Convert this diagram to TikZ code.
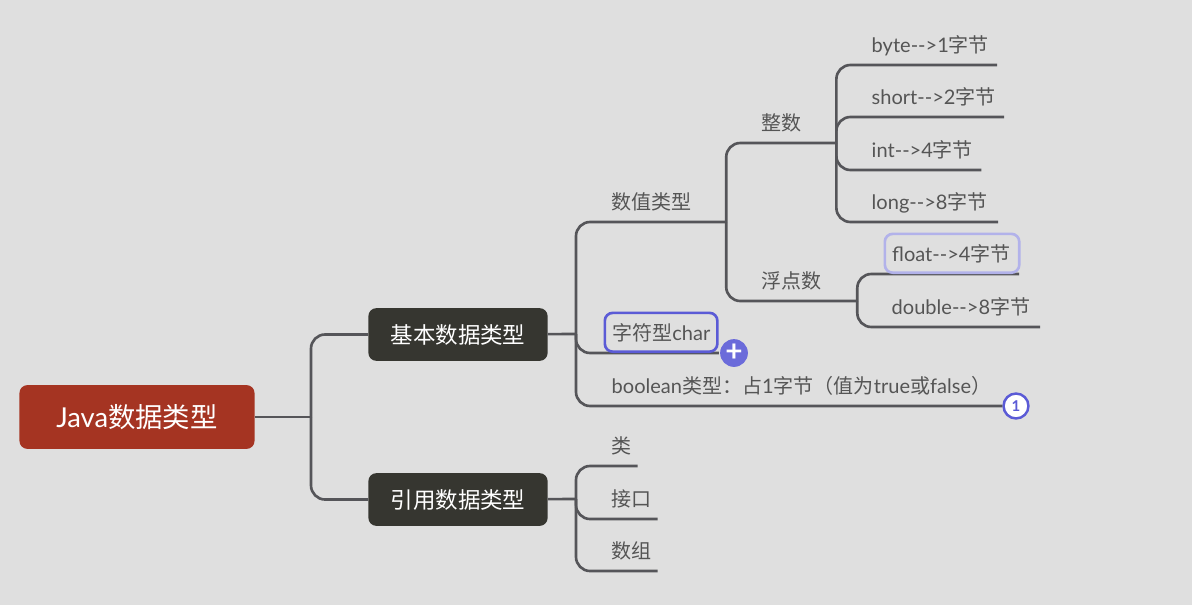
\documentclass[tikz,border=0pt]{standalone}
\usepackage{fontspec}
\setmainfont{Lato}
\newfontfamily\cjk{Noto Sans CJK SC}
\newcommand{\cn}[1]{{\cjk #1}}
\definecolor{bgGray}{HTML}{DFDFDF}
\definecolor{rootRed}{HTML}{A53422}
\definecolor{mainDark}{HTML}{363630}
\definecolor{linkGray}{HTML}{555559}
\definecolor{textGray}{HTML}{555555}
\definecolor{selBlue}{HTML}{5B5BD6}
\definecolor{selLight}{HTML}{B2B2EA}
\tikzset{
    link/.style={draw=linkGray, line width=1.5pt},
    elbow/.style={link, rounded corners=8pt},
    leaf/.style={anchor=south west, text=textGray, font=\fontsize{11.4}{13}\selectfont,
        inner xsep=4.2pt, inner ysep=0pt, text height=10.7pt, text depth=1.4pt,
        minimum height=23.4pt, align=left, text width=#1*0.5669pt-8.4pt},
    selbox/.style={leaf=#1, rounded corners=4.5pt, minimum height=22.1pt, line width=1.5pt},
    mainbox/.style={fill=mainDark, text=white, rounded corners=4.5pt, minimum width=102pt,
        minimum height=30pt, inner sep=0pt, font=\fontsize{12.8}{15}\selectfont},
    badge/.style={circle, inner sep=0pt, minimum size=14.2pt, line width=1.4pt}
}

\begin{document}
\begin{tikzpicture}[x=0.02cm, y=-0.02cm]
    \useasboundingbox (0,0) rectangle (1192,605);
    \fill[bgGray] (0,0) rectangle (1192,605);

    % root and main branches
    \node[fill=rootRed, text=white, rounded corners=4.5pt, minimum width=133.8pt, minimum height=36.3pt,
        inner sep=0pt, font=\fontsize{15.6}{18}\selectfont] (root) at (137,417) {Java\cn{数据类型}};
    \node[mainbox] (jiben) at (458,334.5) {\cn{基本数据类型}};
    \node[mainbox] (yinyong) at (458,499.5) {\cn{引用数据类型}};
    \coordinate (busRoot) at (311,417);
    \draw[link] (root) -- (busRoot);
    \draw[elbow] (busRoot) |- (jiben.west);
    \draw[elbow] (busRoot) |- (yinyong.west);

    % basic types
    \node[leaf=122] (shuzhi) at (604,222) {\cn{数值类型}};
    \node[leaf=400] (boolean) at (604,406) {boolean\cn{类型：占}1\cn{字节（值为}true\cn{或}false\cn{）}};
    \node[badge, draw=selBlue, fill=white, text=selBlue, font=\fontsize{8.5}{8.5}\selectfont\bfseries] (count) at (1016,406) {1};
    \node[badge, minimum size=15.8pt, fill=selBlue!90!white, text=white, font=\fontsize{17}{17}\selectfont\bfseries] (plus) at (734,353) {+};
    \coordinate (busBasic) at (576,334);
    \draw[link] (jiben) -- (busBasic);
    \draw[elbow] (busBasic) |- (shuzhi.south east);
    \draw[elbow] (busBasic) |- (plus.west);
    \draw[elbow] (busBasic) |- (count.west);
    \node[selbox=113, draw=selBlue] (char) at (603.5,353) {\cn{字符型}char};

    % integers
    \node[leaf=82] (zhengshu) at (754,143) {\cn{整数}};
    \node[leaf=133] (byte) at (864,65) {byte-{}->1\cn{字节}};
    \node[leaf=140] (short) at (864,117) {short-{}->2\cn{字节}};
    \node[leaf=117] (int) at (864,170) {int-{}->4\cn{字节}};
    \node[leaf=134] (long) at (864,222) {long-{}->8\cn{字节}};
    \draw[elbow] (shuzhi.south east) |- (zhengshu.south east);
    \foreach \type in {byte,short,int,long}
        \draw[elbow] (zhengshu.south east) |- (\type.south east);

    % floats
    \node[leaf=103] (fudian) at (754,301) {\cn{浮点数}};
    \node[leaf=156] (double) at (884,327) {double-{}->8\cn{字节}};
    \coordinate (floatEnd) at (1019,274);
    \draw[elbow] (shuzhi.south east) |- (fudian.south east);
    \draw[elbow] (fudian.south east) |- (floatEnd);
    \draw[elbow] (fudian.south east) |- (double.south east);
    \node[selbox=135, draw=selLight] (float) at (883.5,274) {float-{}->4\cn{字节}};

    % reference types
    \node[leaf=33] (lei) at (604,466) {\cn{类}};
    \node[leaf=53] (jiekou) at (604,519) {\cn{接口}};
    \node[leaf=53] (shuzu) at (604,571) {\cn{数组}};
    \coordinate (busRef) at (576,499);
    \draw[link] (yinyong) -- (busRef);
    \foreach \type in {lei,jiekou,shuzu}
        \draw[elbow] (busRef) |- (\type.south east);
\end{tikzpicture}
\end{document}
